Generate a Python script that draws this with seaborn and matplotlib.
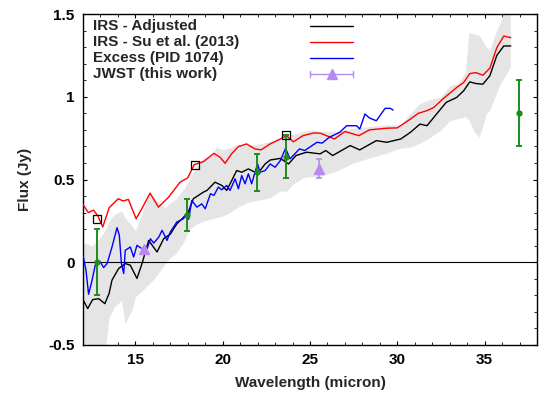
import numpy as np
import pandas as pd
import matplotlib
matplotlib.use("Agg")
import matplotlib.pyplot as plt
import seaborn as sns
from matplotlib.ticker import MultipleLocator

# ---------------- data ----------------
adj_x = [12.0, 12.27, 12.55, 12.9, 13.25, 13.49, 13.66, 14.04, 14.42, 14.71, 15.09, 15.38, 15.76,
         16.24, 16.62, 17.0, 17.38, 17.7, 18.03, 18.32, 18.9, 19.1, 19.56, 19.95, 20.23, 20.52,
         20.8, 21.09, 21.47, 21.85, 22.14, 22.43, 22.72, 23.1, 23.3, 23.77, 24.2, 24.8, 25.58,
         25.9, 26.3, 27.3, 27.85, 28.8, 29.4, 30.2, 30.75, 31.3, 31.7, 32.25, 32.8, 33.4, 33.8,
         34.15, 34.5, 34.9, 35.3, 35.7, 36.1, 36.5]
adj_y = [-0.226, -0.28, -0.226, -0.22, -0.25, -0.19, -0.108, -0.038, -0.008, -0.018, -0.098,
         -0.008, 0.132, 0.062, 0.142, 0.17, 0.233, 0.265, 0.303, 0.384, 0.424, 0.434, 0.484,
         0.464, 0.434, 0.494, 0.554, 0.544, 0.564, 0.544, 0.554, 0.594, 0.618, 0.624, 0.628,
         0.594, 0.645, 0.665, 0.655, 0.675, 0.645, 0.705, 0.679, 0.735, 0.725, 0.745, 0.785,
         0.835, 0.825, 0.896, 0.966, 0.996, 1.036, 1.09, 1.08, 1.076, 1.127, 1.25, 1.307, 1.307]

su_x = [12.0, 12.3, 12.6, 12.85, 13.13, 13.5, 14.02, 14.3, 14.6, 15.04, 15.4, 15.84, 16.32,
        16.9, 17.56, 18.0, 18.37, 18.9, 19.5, 19.85, 20.14, 20.5, 20.9, 21.37, 21.85, 22.2,
        22.72, 23.3, 23.65, 24.05, 24.6, 25.2, 25.6, 26.4, 27.0, 27.8, 28.4, 29.4, 30.0, 30.75,
        31.2, 31.7, 32.1, 32.6, 33.4, 33.8, 34.15, 34.5, 34.9, 35.3, 35.7, 36.1, 36.5]
su_y = [0.35, 0.30, 0.315, 0.28, 0.213, 0.33, 0.384, 0.37, 0.38, 0.263, 0.33, 0.418, 0.333,
        0.393, 0.484, 0.51, 0.59, 0.608, 0.658, 0.634, 0.598, 0.654, 0.699, 0.715, 0.685, 0.679,
        0.715, 0.745, 0.765, 0.728, 0.765, 0.781, 0.78, 0.745, 0.79, 0.765, 0.8, 0.81, 0.812,
        0.865, 0.9, 0.916, 0.936, 0.986, 1.056, 1.086, 1.14, 1.146, 1.13, 1.173, 1.297, 1.367,
        1.357]

exc_x = [12.0, 12.17, 12.32, 12.52, 12.7, 12.99, 13.18, 13.38, 13.66, 13.95, 14.08, 14.2, 14.33,
         14.42, 14.71, 14.9, 15.09, 15.38, 15.67, 15.86, 16.05, 16.34, 16.53, 16.81, 17.0,
         17.37, 17.75, 17.94, 18.05, 18.23, 18.52, 18.8, 19.0, 19.3, 19.5, 19.75, 19.95, 20.23,
         20.42, 20.71, 20.9, 21.09, 21.28, 21.47, 21.66, 21.85, 22.0, 22.14, 22.43, 22.72, 23.0,
         23.3, 23.6, 23.86, 24.4, 24.7, 25.4, 25.7, 26.1, 26.7, 27.1, 27.67, 27.85, 28.15,
         28.4, 28.8, 29.3, 29.6, 29.76]
exc_y = [0.042, -0.048, -0.193, -0.108, -0.018, 0.002, -0.032, -0.008, 0.092, 0.209, 0.163,
         -0.008, -0.068, 0.072, 0.092, 0.032, 0.102, 0.082, 0.082, 0.142, 0.116, 0.152, 0.193,
         0.132, 0.183, 0.243, 0.263, 0.293, 0.26, 0.373, 0.333, 0.353, 0.323, 0.414, 0.404,
         0.454, 0.438, 0.464, 0.434, 0.504, 0.444, 0.524, 0.474, 0.534, 0.474, 0.544, 0.594,
         0.544, 0.554, 0.594, 0.574, 0.614, 0.688, 0.625, 0.685, 0.675, 0.725, 0.72, 0.755,
         0.785, 0.825, 0.825, 0.805, 0.896, 0.872, 0.855, 0.93, 0.93, 0.92]

band_x = [12.0, 12.5, 13.0, 13.3, 13.5, 13.8, 14.2, 14.4, 14.8, 15.0, 15.4, 15.8, 16.15, 16.7,
          17.0, 17.3, 17.75, 18.1, 18.5, 18.9, 19.3, 19.65, 20.0, 20.4, 20.8, 21.4, 21.8, 22.3,
          22.7, 23.3, 23.67, 24.0, 24.6, 25.2, 25.6, 26.5, 27.5, 28.4, 29.4, 30.2, 30.75, 31.3,
          31.9, 32.5, 33.0, 33.5, 33.9, 34.1, 34.4, 34.7, 35.1, 35.3, 35.6, 35.9, 36.2, 36.47]
band_hi = [0.12, 0.10, 0.15, 0.2, 0.25, 0.29, 0.31, 0.27, 0.22, 0.19, 0.3, 0.42, 0.38, 0.33,
           0.36, 0.38, 0.44, 0.5, 0.58, 0.63, 0.64, 0.695, 0.68, 0.69, 0.71, 0.705, 0.71, 0.72,
           0.73, 0.75, 0.78, 0.77, 0.79, 0.8, 0.79, 0.79, 0.81, 0.82, 0.83, 0.83, 0.9, 0.96,
           0.985, 1.0, 1.066, 1.08, 1.15, 1.39, 1.38, 1.37, 1.30, 1.28, 1.38, 1.45, 1.55, 1.6]
band_lo = [-0.55, -0.55, -0.55, -0.5, -0.33, -0.27, -0.23, -0.37, -0.29, -0.21, -0.17, -0.13,
           -0.09, -0.01, 0.03, 0.05, 0.12, 0.2, 0.23, 0.25, 0.26, 0.27, 0.28, 0.3, 0.33, 0.36,
           0.37, 0.38, 0.39, 0.43, 0.43, 0.47, 0.51, 0.52, 0.52, 0.55, 0.6, 0.63, 0.66, 0.69,
           0.695, 0.72, 0.755, 0.8, 0.855, 0.87, 0.88, 0.86, 0.79, 0.755, 0.9, 0.92, 1.0, 1.08,
           1.13, 1.18]

phot_x = [12.82, 17.97, 21.97, 23.62, 36.98]
phot_y = [0.0, 0.286, 0.543, 0.638, 0.903]
phot_err = [0.2, 0.095, 0.11, 0.13, 0.2]

sq_x = [12.82, 18.4, 23.62]
sq_y = [0.263, 0.586, 0.767]

jwst_x = [15.48, 25.5]
jwst_y = [0.078, 0.566]
jwst_err = [0.008, 0.055]

legend_labels = ["IRS - Adjusted", "IRS - Su et al. (2013)", "Excess (PID 1074)", "JWST (this work)"]
x_ticks = [15, 20, 25, 30, 35]
y_ticks = [-0.5, 0, 0.5, 1, 1.5]
y_tick_labels = ["-0.5", "0", "0.5", "1", "1.5"]

# ---------------- style ----------------
sns.set_theme(style="ticks")
plt.rcParams['font.family'] = ['Liberation Sans', 'DejaVu Sans']
plt.rcParams['font.weight'] = 'bold'
plt.rcParams['axes.labelweight'] = 'bold'
plt.rcParams['font.size'] = 11

C_BLACK = "#000000"
C_RED = "#ff0000"
C_BLUE = "#0000ff"
C_GREEN = "#1e8c1e"
C_PURPLE = "#b88af0"
C_BAND = "#e5e5e5"

fig = plt.figure(figsize=(5.45, 3.94), dpi=100)
ax = fig.add_axes([0.1523, 0.1244, 0.833, 0.840])

ax.fill_between(band_x, band_lo, band_hi, color=C_BAND, linewidth=0, zorder=1)
ax.axhline(0, color="black", lw=0.8, zorder=2)

df_adj = pd.DataFrame({"x": adj_x, "y": adj_y})
df_su = pd.DataFrame({"x": su_x, "y": su_y})
df_exc = pd.DataFrame({"x": exc_x, "y": exc_y})
sns.lineplot(data=df_adj, x="x", y="y", color=C_BLACK, lw=1.0, sort=False, estimator=None, ax=ax, zorder=3)
sns.lineplot(data=df_su, x="x", y="y", color=C_RED, lw=1.0, sort=False, estimator=None, ax=ax, zorder=3)
sns.lineplot(data=df_exc, x="x", y="y", color=C_BLUE, lw=1.0, sort=False, estimator=None, ax=ax, zorder=3)

ax.errorbar(phot_x, phot_y, yerr=phot_err, fmt='o', ms=3.5, color=C_GREEN,
            ecolor=C_GREEN, elinewidth=1.4, capsize=2.5, capthick=1.4, zorder=5)
sns.scatterplot(x=sq_x, y=sq_y, marker='s', s=34, facecolor='none', edgecolor='black',
                linewidth=0.9, ax=ax, zorder=6)
ax.errorbar(jwst_x, jwst_y, yerr=jwst_err, fmt='^', ms=6.5, color=C_PURPLE,
            ecolor=C_PURPLE, elinewidth=1.2, capsize=2.5, capthick=1.2, zorder=5)

# ---------------- legend (gnuplot style) ----------------
row_y = [0.963, 0.915, 0.867, 0.820]
colors = [C_BLACK, C_RED, C_BLUE, C_PURPLE]
for lab, yy, col in zip(legend_labels, row_y, colors):
    ax.text(0.021, yy, lab, transform=ax.transAxes, ha='left', va='center',
            fontsize=11, fontweight='bold')
    ax.plot([0.501, 0.594], [yy, yy], transform=ax.transAxes, color=col, lw=1.0)
ax.plot([0.501, 0.501], [row_y[3] - 0.009, row_y[3] + 0.009], transform=ax.transAxes, color=C_PURPLE, lw=1.0)
ax.plot([0.594, 0.594], [row_y[3] - 0.009, row_y[3] + 0.009], transform=ax.transAxes, color=C_PURPLE, lw=1.0)
ax.plot([0.5475], [row_y[3]], transform=ax.transAxes, marker='^', ms=6.5, color=C_PURPLE)

# ---------------- axes ----------------
ax.set_xlim(12, 38)
ax.set_ylim(-0.5, 1.5)
ax.set_xticks(x_ticks)
ax.set_xticklabels([str(t) for t in x_ticks])
ax.set_yticks(y_ticks)
ax.set_yticklabels(y_tick_labels)
ax.xaxis.set_minor_locator(MultipleLocator(1))
ax.yaxis.set_minor_locator(MultipleLocator(0.1))
ax.tick_params(which='major', direction='in', top=True, right=True, length=3.2, width=0.8,
               labelsize=11, pad=6, colors='black')
ax.tick_params(which='minor', direction='in', top=True, right=True, length=1.9, width=0.7)
for lbl in ax.get_xticklabels() + ax.get_yticklabels():
    lbl.set_fontweight('bold')
for sp in ax.spines.values():
    sp.set_visible(True)
    sp.set_linewidth(1.0)
    sp.set_color('black')
ax.set_xlabel("Wavelength (micron)", fontsize=11, fontweight='bold', labelpad=6)
ax.set_ylabel("Flux (Jy)", fontsize=11, fontweight='bold', labelpad=12)
ax.set_facecolor('white')
fig.patch.set_facecolor('white')

fig.savefig("out.png", dpi=100, facecolor='white')
